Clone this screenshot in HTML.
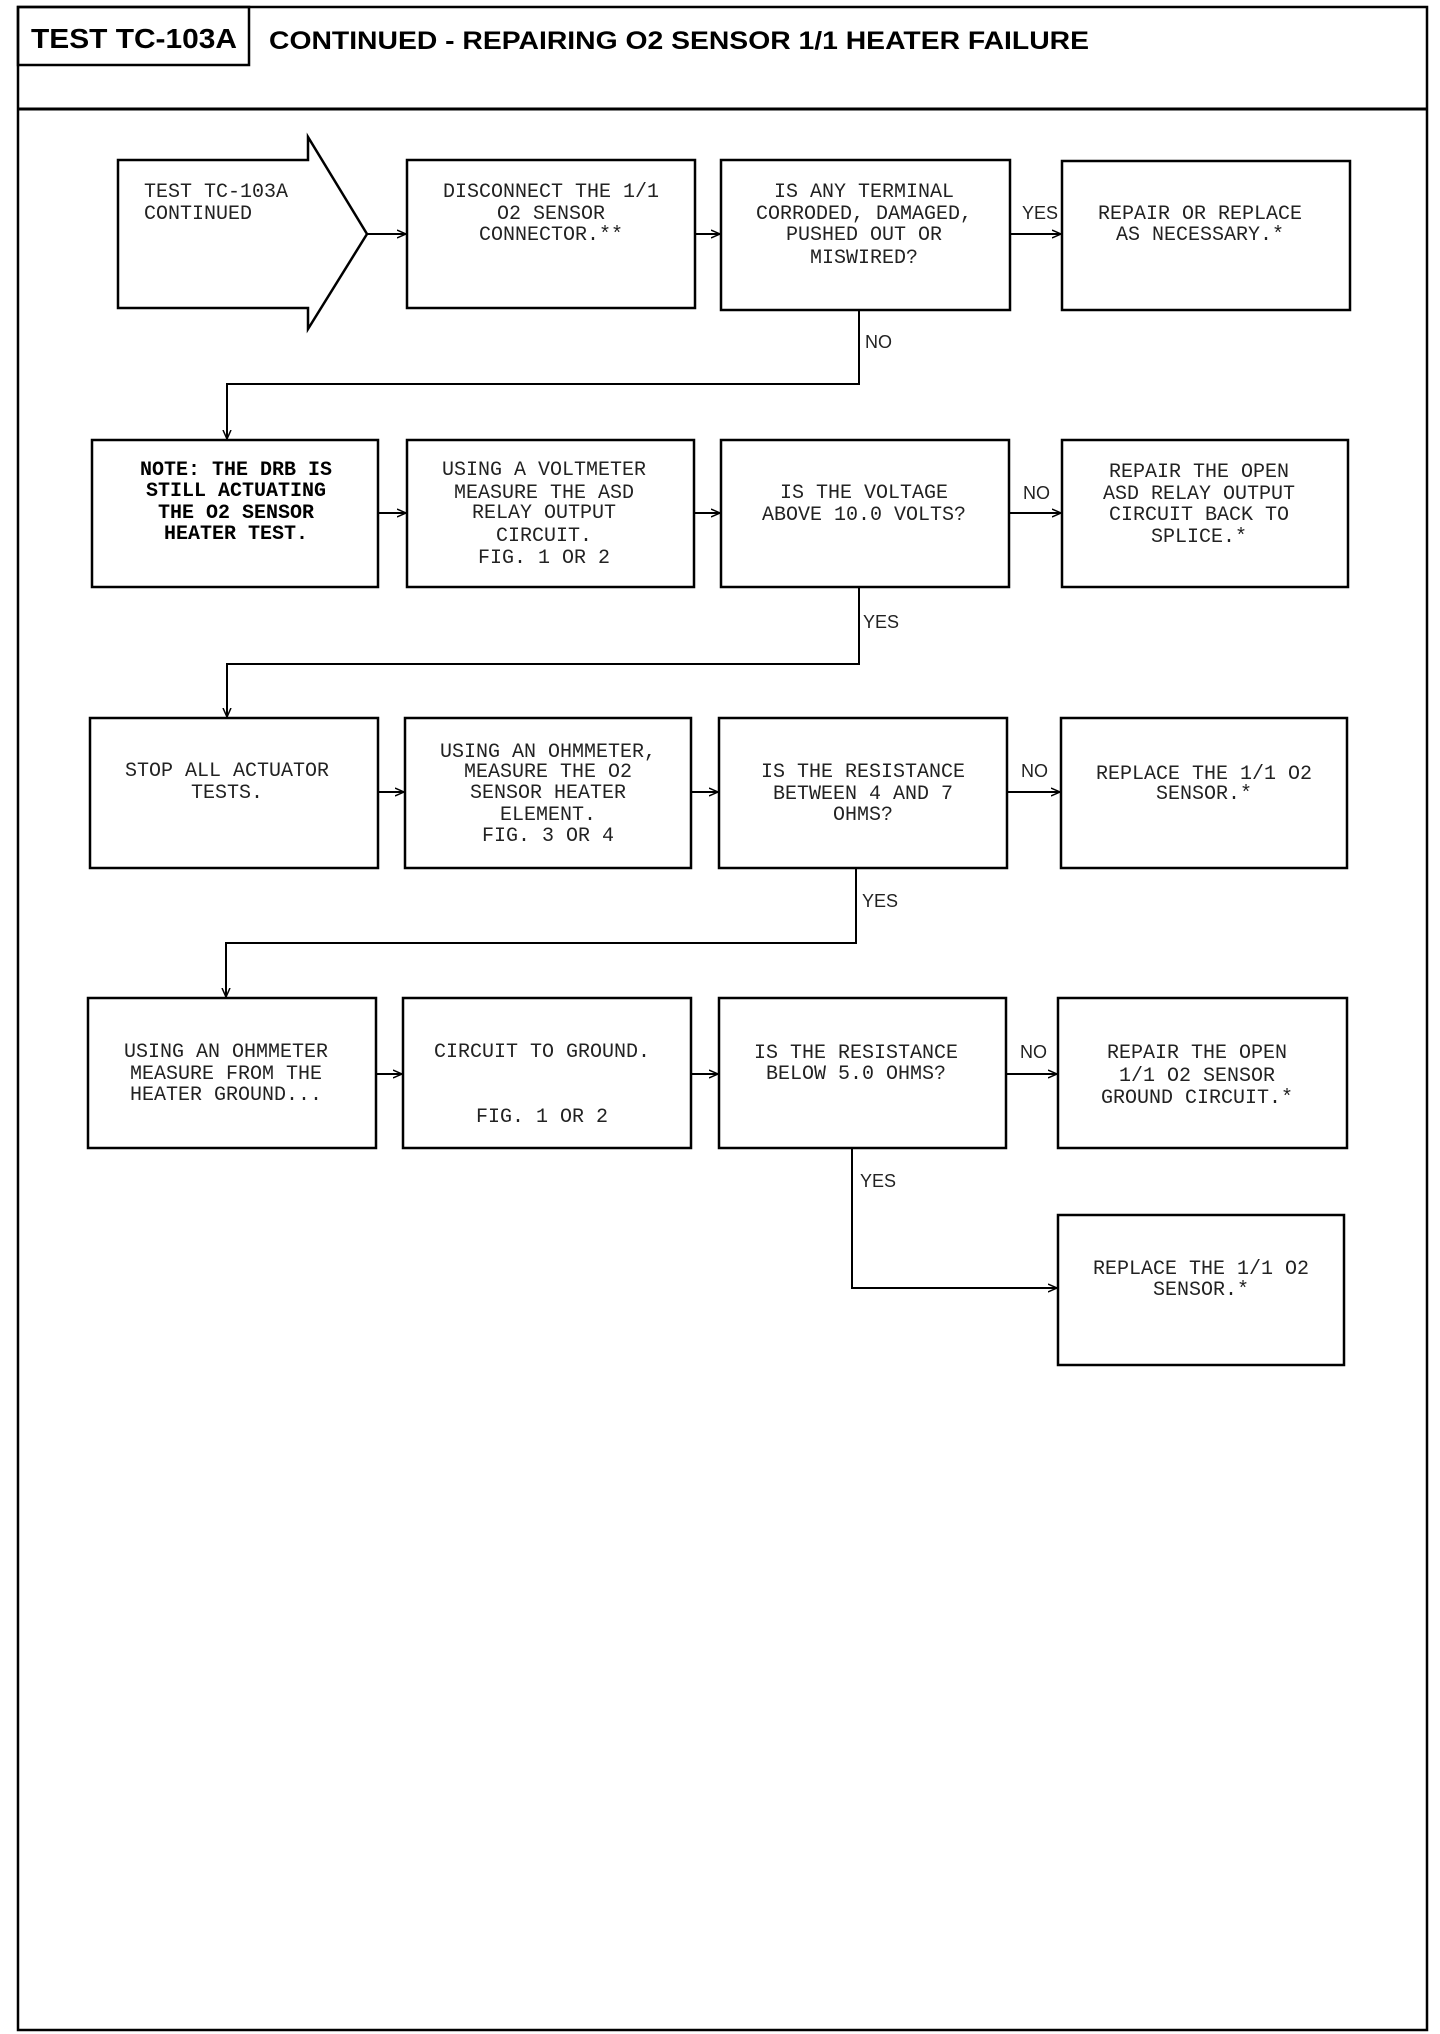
<!DOCTYPE html>
<html><head><meta charset="utf-8"><style>
html,body{margin:0;padding:0;background:#fff;}
svg{display:block;}
.t{font-family:"Liberation Mono",monospace;font-size:20px;fill:#222;text-anchor:middle;}
.b{font-family:"Liberation Mono",monospace;font-size:20px;font-weight:bold;fill:#000;text-anchor:middle;}
.l{font-family:"Liberation Sans",sans-serif;font-size:18px;fill:#222;}
</style></head><body>
<svg width="1440" height="2034" viewBox="0 0 1440 2034" xmlns="http://www.w3.org/2000/svg">
<defs><marker id="a" markerWidth="10" markerHeight="10" refX="9" refY="5" orient="auto" markerUnits="userSpaceOnUse"><path d="M0,1 L9,5 L0,9" fill="none" stroke="#000" stroke-width="1.5"/></marker></defs>
<g fill="none" stroke="#000" stroke-width="2.5">
<rect x="18" y="7" width="1409" height="2023"/>
<line x1="18" y1="109" x2="1427" y2="109" stroke-width="3"/>
<rect x="18" y="7" width="231" height="58"/>
<!-- row1 -->
<path d="M118,160 H308 V137 L367,234 L308,329 V308 H118 Z"/>
<rect x="407" y="160" width="288" height="148"/>
<rect x="721" y="160" width="289" height="150"/>
<rect x="1062" y="161" width="288" height="149"/>
<!-- row2 -->
<rect x="92" y="440" width="286" height="147"/>
<rect x="407" y="440" width="287" height="147"/>
<rect x="721" y="440" width="288" height="147"/>
<rect x="1062" y="440" width="286" height="147"/>
<!-- row3 -->
<rect x="90" y="718" width="288" height="150"/>
<rect x="405" y="718" width="286" height="150"/>
<rect x="719" y="718" width="288" height="150"/>
<rect x="1061" y="718" width="286" height="150"/>
<!-- row4 -->
<rect x="88" y="998" width="288" height="150"/>
<rect x="403" y="998" width="288" height="150"/>
<rect x="719" y="998" width="287" height="150"/>
<rect x="1058" y="998" width="289" height="150"/>
<rect x="1058" y="1215" width="286" height="150"/>
</g>
<g fill="none" stroke="#000" stroke-width="2" marker-end="url(#a)">
<line x1="367" y1="234" x2="406" y2="234"/>
<line x1="695" y1="234" x2="720" y2="234"/>
<line x1="1010" y1="234" x2="1061" y2="234"/>
<polyline points="859,310 859,384 227,384 227,439"/>
<line x1="378" y1="513" x2="406" y2="513"/>
<line x1="694" y1="513" x2="720" y2="513"/>
<line x1="1009" y1="513" x2="1061" y2="513"/>
<polyline points="859,587 859,664 227,664 227,717"/>
<line x1="378" y1="792" x2="404" y2="792"/>
<line x1="691" y1="792" x2="718" y2="792"/>
<line x1="1007" y1="792" x2="1060" y2="792"/>
<polyline points="856,868 856,943 226,943 226,997"/>
<line x1="376" y1="1074" x2="402" y2="1074"/>
<line x1="691" y1="1074" x2="718" y2="1074"/>
<line x1="1006" y1="1074" x2="1057" y2="1074"/>
<polyline points="852,1148 852,1288 1057,1288"/>
</g>
<text x="134" y="48" font-family="Liberation Sans,sans-serif" font-size="28" font-weight="bold" text-anchor="middle" textLength="206" lengthAdjust="spacingAndGlyphs">TEST TC-103A</text>
<text x="269" y="49" font-family="Liberation Sans,sans-serif" font-size="25" font-weight="bold" textLength="820" lengthAdjust="spacingAndGlyphs">CONTINUED - REPAIRING O2 SENSOR 1/1 HEATER FAILURE</text>
<g class="t">
<text x="144" y="197" text-anchor="start">TEST TC-103A</text>
<text x="144" y="219" text-anchor="start">CONTINUED</text>
<text x="551" y="197">DISCONNECT THE 1/1</text>
<text x="551" y="219">O2 SENSOR</text>
<text x="551" y="240">CONNECTOR.**</text>
<text x="864" y="197">IS ANY TERMINAL</text>
<text x="864" y="219">CORRODED, DAMAGED,</text>
<text x="864" y="240">PUSHED OUT OR</text>
<text x="864" y="263">MISWIRED?</text>
<text x="1200" y="219">REPAIR OR REPLACE</text>
<text x="1200" y="240">AS NECESSARY.*</text>
<text x="544" y="475">USING A VOLTMETER</text>
<text x="544" y="498">MEASURE THE ASD</text>
<text x="544" y="518">RELAY OUTPUT</text>
<text x="544" y="541">CIRCUIT.</text>
<text x="544" y="563">FIG. 1 OR 2</text>
<text x="864" y="498">IS THE VOLTAGE</text>
<text x="864" y="520">ABOVE 10.0 VOLTS?</text>
<text x="1199" y="477">REPAIR THE OPEN</text>
<text x="1199" y="499">ASD RELAY OUTPUT</text>
<text x="1199" y="520">CIRCUIT BACK TO</text>
<text x="1199" y="542">SPLICE.*</text>
<text x="227" y="776">STOP ALL ACTUATOR</text>
<text x="227" y="798">TESTS.</text>
<text x="548" y="757">USING AN OHMMETER,</text>
<text x="548" y="777">MEASURE THE O2</text>
<text x="548" y="798">SENSOR HEATER</text>
<text x="548" y="820">ELEMENT.</text>
<text x="548" y="841">FIG. 3 OR 4</text>
<text x="863" y="777">IS THE RESISTANCE</text>
<text x="863" y="799">BETWEEN 4 AND 7</text>
<text x="863" y="820">OHMS?</text>
<text x="1204" y="779">REPLACE THE 1/1 O2</text>
<text x="1204" y="799">SENSOR.*</text>
<text x="226" y="1057">USING AN OHMMETER</text>
<text x="226" y="1079">MEASURE FROM THE</text>
<text x="226" y="1100">HEATER GROUND...</text>
<text x="542" y="1057">CIRCUIT TO GROUND.</text>
<text x="542" y="1122">FIG. 1 OR 2</text>
<text x="856" y="1058">IS THE RESISTANCE</text>
<text x="856" y="1079">BELOW 5.0 OHMS?</text>
<text x="1197" y="1058">REPAIR THE OPEN</text>
<text x="1197" y="1081">1/1 O2 SENSOR</text>
<text x="1197" y="1103">GROUND CIRCUIT.*</text>
<text x="1201" y="1274">REPLACE THE 1/1 O2</text>
<text x="1201" y="1295">SENSOR.*</text>
</g>
<g class="b">
<text x="236" y="475">NOTE: THE DRB IS</text>
<text x="236" y="496">STILL ACTUATING</text>
<text x="236" y="518">THE O2 SENSOR</text>
<text x="236" y="539">HEATER TEST.</text>
</g>
<g class="l">
<text x="1022" y="219">YES</text>
<text x="865" y="348">NO</text>
<text x="1023" y="499">NO</text>
<text x="863" y="628">YES</text>
<text x="1021" y="777">NO</text>
<text x="862" y="907">YES</text>
<text x="1020" y="1058">NO</text>
<text x="860" y="1187">YES</text>
</g>
</svg>
</body></html>
